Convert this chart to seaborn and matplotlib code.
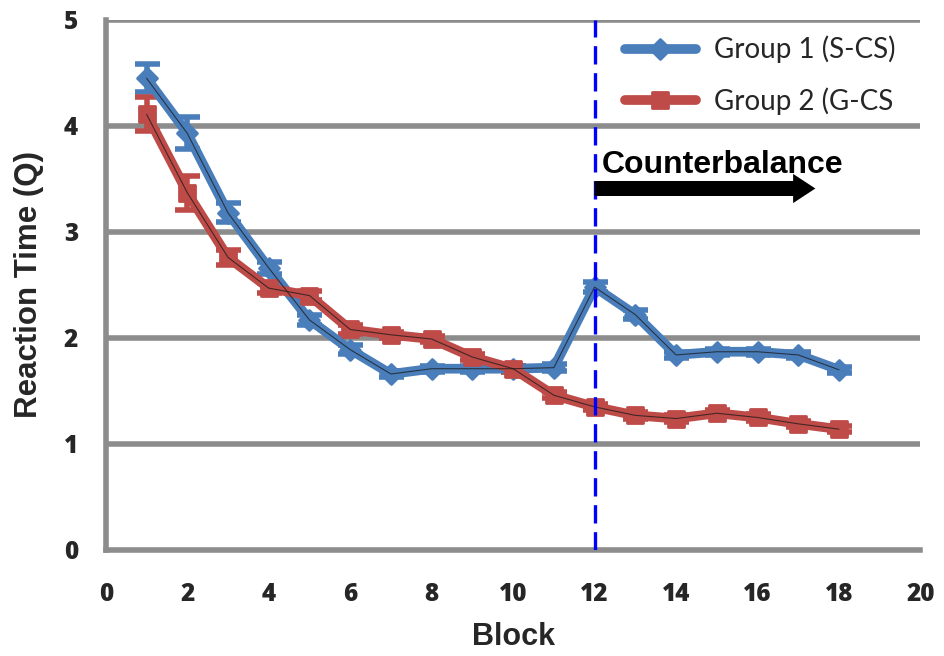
import matplotlib
matplotlib.use("Agg")
import matplotlib.pyplot as plt
from matplotlib.markers import MarkerStyle
import seaborn as sns
import pandas as pd

blocks = list(range(1, 19))
group1_rt = [4.45, 3.93, 3.18, 2.66, 2.17, 1.89, 1.66, 1.71, 1.71, 1.71, 1.72,
             2.48, 2.22, 1.84, 1.87, 1.87, 1.84, 1.70]
group1_err = [0.13, 0.15, 0.09, 0.06, 0.05, 0.04, 0.03, 0.03, 0.03, 0.03, 0.03,
              0.05, 0.04, 0.03, 0.03, 0.03, 0.03, 0.03]
group2_rt = [4.11, 3.37, 2.76, 2.47, 2.40, 2.08, 2.03, 1.99, 1.82, 1.71, 1.46,
             1.35, 1.27, 1.24, 1.29, 1.25, 1.19, 1.14]
group2_err = [0.16, 0.16, 0.07, 0.05, 0.04, 0.04, 0.03, 0.03, 0.03, 0.03, 0.03,
              0.03, 0.03, 0.03, 0.03, 0.03, 0.03, 0.03]
group_names = ["Group 1 (S-CS)", "Group 2 (G-CS"]
x_ticks = [0, 2, 4, 6, 8, 10, 12, 14, 16, 18, 20]
y_ticks = [0, 1, 2, 3, 4, 5]
switch_block = 12
arrow_end = 17.42

BLUE = "#4a7ebb"
RED = "#be4b48"
GRID = "#8c8c8c"

sns.set_theme(style="white")
plt.rcParams["font.family"] = ["Liberation Sans", "DejaVu Sans"]

df = pd.DataFrame({
    "Block": blocks * 2,
    "RT": group1_rt + group2_rt,
    "Err": group1_err + group2_err,
    "Group": [group_names[0]] * len(blocks) + [group_names[1]] * len(blocks),
})

fig = plt.figure(figsize=(9.45, 6.56), dpi=100)
ax = fig.add_axes([0.112, 0.1616, 0.862, 0.808])

# horizontal gridlines
for yv in y_ticks[1:]:
    ax.axhline(yv, color=GRID, lw=4, zorder=0)

styles = {
    group_names[0]: (BLUE, MarkerStyle("D", joinstyle="round"), 14.5),
    group_names[1]: (RED, MarkerStyle("s", joinstyle="round"), 15.5),
}
for name, sub in df.groupby("Group", sort=False):
    color, marker, ms = styles[name]
    ax.errorbar(sub["Block"], sub["RT"], yerr=sub["Err"], fmt="none",
                ecolor=color, elinewidth=4, capsize=9, capthick=4, zorder=2)
    sns.lineplot(data=sub, x="Block", y="RT", ax=ax, color=color, lw=7,
                 marker=marker, markersize=ms, markeredgecolor=color,
                 markeredgewidth=2, zorder=3, label=name,
                 solid_joinstyle="round", solid_capstyle="round")
    # thin dark core line
    sns.lineplot(data=sub, x="Block", y="RT", ax=ax, color="#1a1a1a", lw=0.8,
                 alpha=0.75, zorder=4, legend=False)

ax.axvline(switch_block, color="#0000ff", lw=2.4, ls=(0, (5.5, 2.6)), zorder=5)

ax.annotate("", xy=(arrow_end, 3.41), xytext=(switch_block, 3.41),
            arrowprops=dict(arrowstyle="simple,head_length=0.8,head_width=1.05,tail_width=0.54",
                            mutation_scale=20, color="black", lw=0,
                            shrinkA=0, shrinkB=0), zorder=6)
ax.text(switch_block + 0.18, 3.63, "Counterbalance", fontsize=23,
        fontweight="bold", ha="left", va="center", color="black", zorder=6)

ax.set_xlim(0, 20)
ax.set_ylim(0, 5)
ax.set_xticks(x_ticks)
ax.set_yticks(y_ticks)
ax.tick_params(axis="x", labelsize=17.5, length=0, pad=23)
ax.tick_params(axis="y", labelsize=17.5, length=0, pad=20)
for lab in ax.get_xticklabels() + ax.get_yticklabels():
    lab.set_fontweight("heavy")
    lab.set_family(["Open Sans", "DejaVu Sans"])
ax.set_xlabel("Block", fontsize=22, fontweight="bold", labelpad=11)
ax.set_ylabel("Reaction Time (Q)", fontsize=22.5, fontweight="bold", labelpad=14)

for side in ["top", "right"]:
    ax.spines[side].set_visible(False)
for side in ["left", "bottom"]:
    ax.spines[side].set_color(GRID)
    ax.spines[side].set_linewidth(4)

handles, labels = ax.get_legend_handles_labels()
for h in handles[:2]:
    h.set_markersize(h.get_markersize() * 0.7)
leg = ax.legend(handles[:2], labels[:2], loc="upper left",
                bbox_to_anchor=(0.637, 0.97), frameon=False,
                prop={"family": ["Lato", "DejaVu Sans"], "size": 20},
                handlelength=2.55, handletextpad=0.65, borderpad=0,
                borderaxespad=0, labelspacing=0.85)
leg.set_zorder(7)

fig.savefig("out.png", dpi=100)
